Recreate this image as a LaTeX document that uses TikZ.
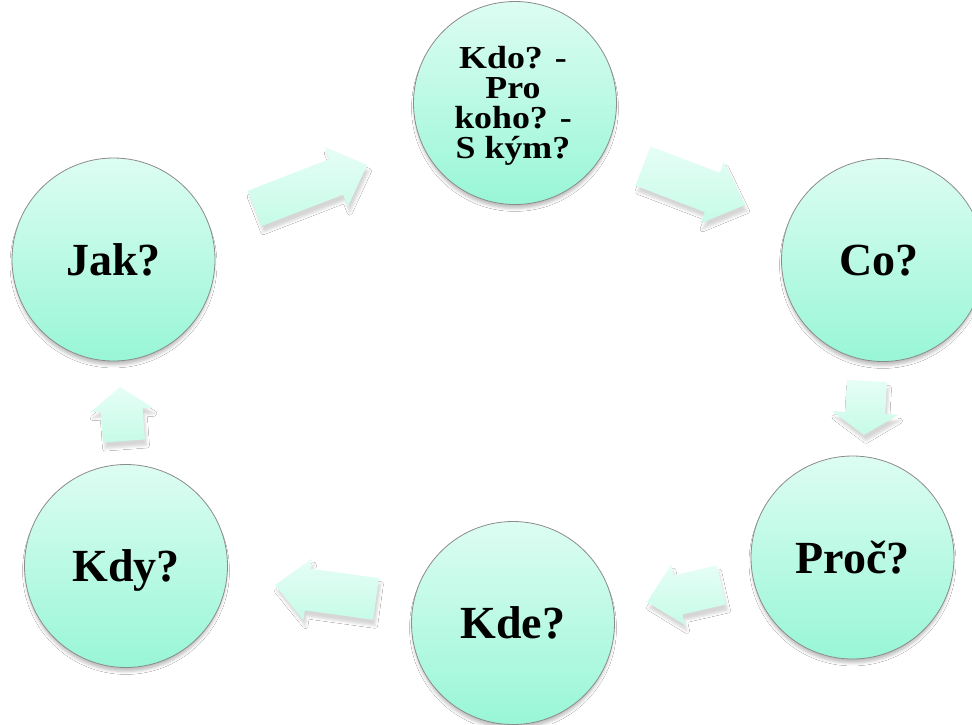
\documentclass[tikz,border=0pt]{standalone}
\usepackage{fontspec}
\setmainfont{Liberation Serif}
\newfontfamily\widefont[FakeStretch=1.12]{Liberation Serif}
\usetikzlibrary{calc,shadows.blur}
\definecolor{circtop}{HTML}{DDFDF2}
\definecolor{circbot}{HTML}{98F6D6}
\definecolor{arrtop}{HTML}{E6FEF6}
\definecolor{arrbot}{HTML}{C6FBE7}
\definecolor{rim}{HTML}{8C8C8C}
\tikzset{
  qcircle/.style={circle, minimum size=203pt, inner sep=0pt, draw=rim, line width=0.8pt,
    top color=circtop, bottom color=circbot,
    font=\fontsize{46}{50}\selectfont\bfseries, text height=31pt, text depth=0pt,
    blur shadow={shadow xshift=0pt, shadow yshift=-5pt, shadow opacity=25, shadow blur radius=3pt, shadow scale=0.99}},
  smalltext/.style={font=\widefont\fontsize{32}{30}\selectfont\bfseries, align=center},
  blockarr/.style={top color=arrtop, bottom color=arrbot, draw=none,
    blur shadow={shadow xshift=2pt, shadow yshift=-6pt, shadow opacity=16, shadow blur radius=2.5pt}},
}
% tail, tip, half shaft width, half head width, head length
\newcommand\blkarrow[5]{%
  \coordinate (hb) at ($(#2)!#5!(#1)$);
  \path[blockarr] ($(#1)!#3!90:(#2)$) -- ($(hb)!#3!90:(#2)$) -- ($(hb)!#4!90:(#2)$) -- (#2)
     -- ($(hb)!#4!-90:(#2)$) -- ($(hb)!#3!-90:(#2)$) -- ($(#1)!#3!-90:(#2)$) -- cycle;
}
\begin{document}
\begin{tikzpicture}[x=1pt,y=-1pt]
\useasboundingbox[fill=white] (0,0) rectangle (972,724);
% block arrows
\coordinate (t1) at (254.5,208.5); \coordinate (h1) at (367,165);
\coordinate (t2) at (643,166);   \coordinate (h2) at (745,205);
\coordinate (t3) at (867,381);   \coordinate (h3) at (864,435);
\coordinate (t4) at (721.5,585); \coordinate (h4) at (647,602);
\coordinate (t5) at (376,599);   \coordinate (h5) at (275,585);
\coordinate (t6) at (124,441);   \coordinate (h6) at (120,387);
\blkarrow{t1}{h1}{19pt}{32pt}{33pt}
\blkarrow{t2}{h2}{21pt}{33pt}{35pt}
\blkarrow{t3}{h3}{20pt}{33pt}{22pt}
\blkarrow{t4}{h4}{20pt}{31pt}{32pt}
\blkarrow{t5}{h5}{21pt}{31pt}{33pt}
\blkarrow{t6}{h6}{21pt}{31pt}{23pt}
% circles
\node[qcircle] (kdo) at (515,103) {};
\node[smalltext] (kdotext) at (513,106) {Kdo? -\\Pro\\koho? -\\S kým?};
\node[qcircle] (jak) at (113.5,259.5) {Jak?};
\node[qcircle] (co) at (883,260) {Co?\hspace*{8pt}};
\node[qcircle] (proc) at (852.5,557.5) {Proč?};
\node[qcircle] (kde) at (513,623) {Kde?};
\node[qcircle] (kdy) at (126,566) {Kdy?};
\end{tikzpicture}
\end{document}
